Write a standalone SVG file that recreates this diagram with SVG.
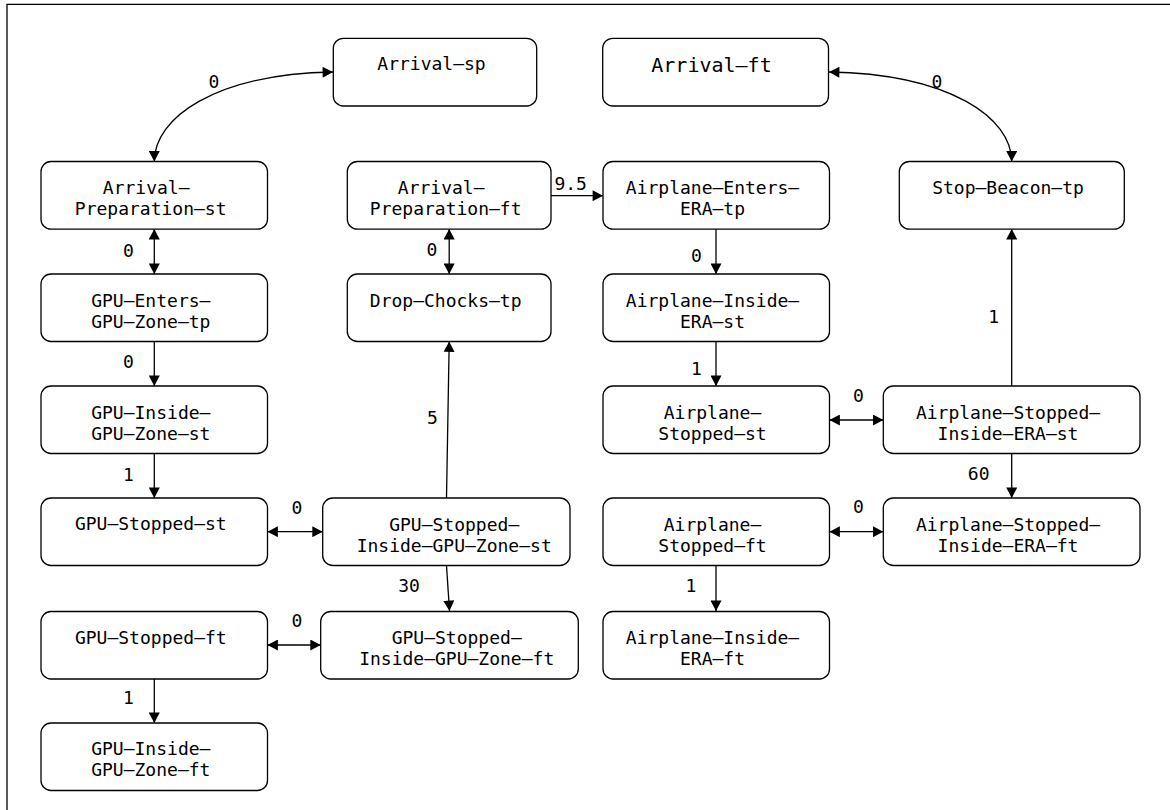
<svg xmlns="http://www.w3.org/2000/svg" width="1170" height="810" viewBox="0 0 1170 810">
  <defs>
    <style>
      .box { fill: #ffffff; stroke: #000000; stroke-width: 1.3; }
      .lbl { font-family: "DejaVu Sans Mono", "Liberation Mono", monospace; font-size: 18px; fill: #000000; text-anchor: middle; }
      .big { font-size: 20px; }
      .edge { fill: none; stroke: #000000; stroke-width: 1.3; }
      .arr { marker-end: url(#head); }
      .bi { marker-start: url(#head); marker-end: url(#head); }
    </style>
    <marker id="head" markerUnits="userSpaceOnUse" markerWidth="11" markerHeight="11" viewBox="0 0 10 10.6" refX="10" refY="5.3" orient="auto-start-reverse">
      <path d="M0,0 L10,5.3 L0,10.6 z" fill="#000000"/>
    </marker>
  </defs>

  <rect width="1170" height="810" fill="#ffffff"/>
  <!-- outer frame (runs off the right and bottom edges) -->
  <path d="M7,812 V4.3 H1172" fill="none" stroke="#000000" stroke-width="1.3"/>

  <!-- connectors -->
  <g id="connectors">
    <path class="edge bi" d="M154.3,161.5 C154.3,118 215,74 333,72"/>
    <path class="edge bi" d="M1011.7,161.5 C1011.7,118 950,74 829,72"/>
    <line class="edge bi" x1="154.3" y1="229" x2="154.3" y2="274"/>
    <line class="edge arr" x1="154.3" y1="341.5" x2="154.3" y2="386"/>
    <line class="edge arr" x1="154.3" y1="453.5" x2="154.3" y2="498"/>
    <line class="edge bi" x1="267.5" y1="531.7" x2="322.7" y2="531.7"/>
    <line class="edge arr" x1="446.5" y1="498" x2="449.2" y2="341.5"/>
    <line class="edge arr" x1="446.5" y1="565.5" x2="449.5" y2="611"/>
    <line class="edge bi" x1="267.5" y1="645" x2="320.7" y2="645"/>
    <line class="edge arr" x1="154.3" y1="679" x2="154.3" y2="723"/>
    <line class="edge bi" x1="449.2" y1="229" x2="449.2" y2="274"/>
    <line class="edge arr" x1="551" y1="195.7" x2="603" y2="195.7"/>
    <line class="edge arr" x1="716" y1="229" x2="716" y2="274"/>
    <line class="edge arr" x1="716" y1="341.5" x2="716" y2="386"/>
    <line class="edge bi" x1="829.5" y1="420" x2="883.3" y2="420"/>
    <line class="edge arr" x1="1011.7" y1="386" x2="1011.7" y2="229"/>
    <line class="edge arr" x1="1011.7" y1="453.5" x2="1011.7" y2="498"/>
    <line class="edge bi" x1="829.5" y1="531.7" x2="883.3" y2="531.7"/>
    <line class="edge arr" x1="716" y1="565.5" x2="716" y2="611"/>

    <text class="lbl" x="214" y="88">0</text>
    <text class="lbl" x="937" y="88">0</text>
    <text class="lbl" x="128.5" y="256.5">0</text>
    <text class="lbl" x="128.5" y="368">0</text>
    <text class="lbl" x="128.5" y="480.5">1</text>
    <text class="lbl" x="297" y="514">0</text>
    <text class="lbl" x="297" y="626.7">0</text>
    <text class="lbl" x="128.5" y="704">1</text>
    <text class="lbl" x="432.5" y="424">5</text>
    <text class="lbl" x="409" y="592.3">30</text>
    <text class="lbl" x="432" y="256">0</text>
    <text class="lbl" x="570.7" y="190">9.5</text>
    <text class="lbl" x="696.5" y="261.7">0</text>
    <text class="lbl" x="696.5" y="375">1</text>
    <text class="lbl" x="993.6" y="323.3">1</text>
    <text class="lbl" x="858.3" y="401.7">0</text>
    <text class="lbl" x="978.7" y="480">60</text>
    <text class="lbl" x="858.3" y="513.3">0</text>
    <text class="lbl" x="691" y="591.7">1</text>
  </g>

  <!-- nodes -->
  <g id="arrival-sp">
    <rect class="box" x="333.3" y="38.3" width="203.4" height="67.7" rx="10"/>
    <text class="lbl" x="431.5" y="70.3">Arrival–sp</text>
  </g>
  <g id="arrival-ft">
    <rect class="box" x="602.7" y="38.3" width="225.8" height="67.7" rx="10"/>
    <text class="lbl big" x="711.5" y="71.7">Arrival–ft</text>
  </g>
  <g id="arrival-preparation-st">
    <rect class="box" x="41" y="161.5" width="226.5" height="67.7" rx="10"/>
    <text class="lbl" x="146.2" y="193.8">Arrival–</text>
    <text class="lbl" x="150.7" y="214.8">Preparation–st</text>
  </g>
  <g id="arrival-preparation-ft">
    <rect class="box" x="347.3" y="161.5" width="203.7" height="67.7" rx="10"/>
    <text class="lbl" x="441.2" y="193.8">Arrival–</text>
    <text class="lbl" x="445.7" y="214.8">Preparation–ft</text>
  </g>
  <g id="airplane-enters-era-tp">
    <rect class="box" x="603" y="161.5" width="226.5" height="67.7" rx="10"/>
    <text class="lbl" x="712.5" y="193.8">Airplane–Enters–</text>
    <text class="lbl" x="712.5" y="214.8">ERA–tp</text>
  </g>
  <g id="stop-beacon-tp">
    <rect class="box" x="899.3" y="161.5" width="225" height="67.7" rx="10"/>
    <text class="lbl" x="1008" y="193.8">Stop–Beacon–tp</text>
  </g>
  <g id="gpu-enters-gpu-zone-tp">
    <rect class="box" x="41" y="274" width="226.5" height="67.5" rx="10"/>
    <text class="lbl" x="150.8" y="306.5">GPU–Enters–</text>
    <text class="lbl" x="150.8" y="327.5">GPU–Zone–tp</text>
  </g>
  <g id="drop-chocks-tp">
    <rect class="box" x="347.3" y="274" width="203.7" height="67.5" rx="10"/>
    <text class="lbl" x="445.7" y="306.5">Drop–Chocks–tp</text>
  </g>
  <g id="airplane-inside-era-st">
    <rect class="box" x="603" y="274" width="226.5" height="67.5" rx="10"/>
    <text class="lbl" x="712.5" y="306.5">Airplane–Inside–</text>
    <text class="lbl" x="712.5" y="327.5">ERA–st</text>
  </g>
  <g id="gpu-inside-gpu-zone-st">
    <rect class="box" x="41" y="386" width="226.5" height="67.5" rx="10"/>
    <text class="lbl" x="150.8" y="418.5">GPU–Inside–</text>
    <text class="lbl" x="150.8" y="439.5">GPU–Zone–st</text>
  </g>
  <g id="airplane-stopped-st">
    <rect class="box" x="603" y="386" width="226.5" height="67.5" rx="10"/>
    <text class="lbl" x="712.5" y="418.5">Airplane–</text>
    <text class="lbl" x="712.5" y="439.5">Stopped–st</text>
  </g>
  <g id="airplane-stopped-inside-era-st">
    <rect class="box" x="883.3" y="386" width="256.7" height="67.5" rx="10"/>
    <text class="lbl" x="1008" y="418.5">Airplane–Stopped–</text>
    <text class="lbl" x="1008" y="439.5">Inside–ERA–st</text>
  </g>
  <g id="gpu-stopped-st">
    <rect class="box" x="41" y="498" width="226.5" height="67.5" rx="10"/>
    <text class="lbl" x="150.8" y="530.3">GPU–Stopped–st</text>
  </g>
  <g id="gpu-stopped-inside-gpu-zone-st">
    <rect class="box" x="322.7" y="498" width="247.3" height="67.5" rx="10"/>
    <text class="lbl" x="454.2" y="530.5">GPU–Stopped–</text>
    <text class="lbl" x="454.2" y="551.5">Inside–GPU–Zone–st</text>
  </g>
  <g id="airplane-stopped-ft">
    <rect class="box" x="603" y="498" width="226.5" height="67.5" rx="10"/>
    <text class="lbl" x="712.5" y="530.5">Airplane–</text>
    <text class="lbl" x="712.5" y="551.5">Stopped–ft</text>
  </g>
  <g id="airplane-stopped-inside-era-ft">
    <rect class="box" x="883.3" y="498" width="256.7" height="67.5" rx="10"/>
    <text class="lbl" x="1008" y="530.5">Airplane–Stopped–</text>
    <text class="lbl" x="1008" y="551.5">Inside–ERA–ft</text>
  </g>
  <g id="gpu-stopped-ft">
    <rect class="box" x="41" y="611.5" width="226.5" height="67.5" rx="10"/>
    <text class="lbl" x="150.8" y="643.5">GPU–Stopped–ft</text>
  </g>
  <g id="gpu-stopped-inside-gpu-zone-ft">
    <rect class="box" x="320.7" y="611.5" width="257.6" height="67.5" rx="10"/>
    <text class="lbl" x="456.7" y="643.8">GPU–Stopped–</text>
    <text class="lbl" x="456.7" y="664.8">Inside–GPU–Zone–ft</text>
  </g>
  <g id="airplane-inside-era-ft">
    <rect class="box" x="603" y="611.5" width="226.5" height="67.5" rx="10"/>
    <text class="lbl" x="712.5" y="643.8">Airplane–Inside–</text>
    <text class="lbl" x="712.5" y="664.8">ERA–ft</text>
  </g>
  <g id="gpu-inside-gpu-zone-ft">
    <rect class="box" x="41" y="723" width="226.5" height="67.5" rx="10"/>
    <text class="lbl" x="150.8" y="755.3">GPU–Inside–</text>
    <text class="lbl" x="150.8" y="776.3">GPU–Zone–ft</text>
  </g>
</svg>
